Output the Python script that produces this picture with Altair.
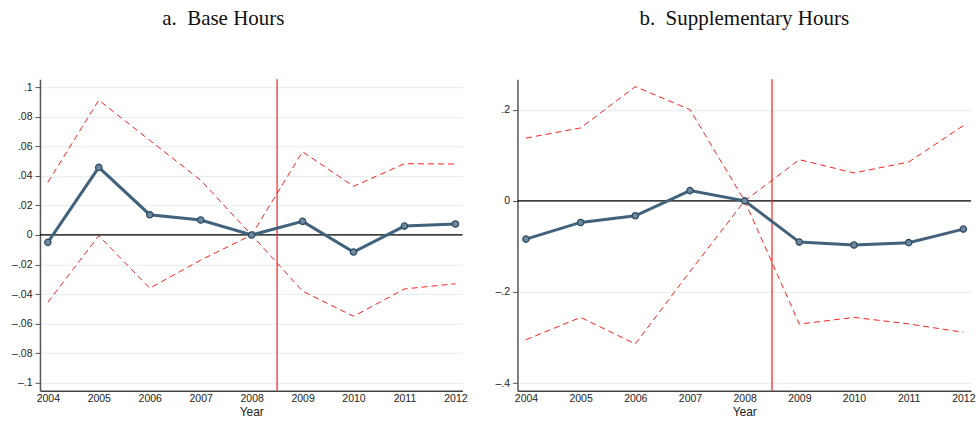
import altair as alt
import pandas as pd

# Event-study coefficients with 95% confidence bounds, by year
years = [2004, 2005, 2006, 2007, 2008, 2009, 2010, 2011, 2012]

base_est = [-0.005, 0.0457, 0.0137, 0.0101, 0.0, 0.0092, -0.0115, 0.006, 0.0074]
base_hi = [0.0356, 0.0912, 0.064, 0.037, 0.0, 0.0563, 0.0329, 0.0482, 0.048]
base_lo = [-0.0455, -0.0005, -0.036, -0.017, 0.0, -0.038, -0.055, -0.0365, -0.033]

supp_est = [-0.0839, -0.0474, -0.0328, 0.0225, 0.0, -0.0905, -0.097, -0.0918, -0.062]
supp_hi = [0.1377, 0.160, 0.2505, 0.2, 0.0, 0.0903, 0.0612, 0.0852, 0.165]
supp_lo = [-0.3047, -0.2557, -0.314, -0.155, 0.0, -0.2704, -0.2557, -0.270, -0.2885]

base_ticks = [-0.1, -0.08, -0.06, -0.04, -0.02, 0, 0.02, 0.04, 0.06, 0.08, 0.1]
supp_ticks = [-0.4, -0.2, 0, 0.2]

LINE_COLOR = "#41627a"
CI_COLOR = "#ff2020"

# Stata-style labels: no leading zero, en-dash minus
LABEL_EXPR = (
    "datum.value == 0 ? '0' : (datum.value < 0 ? '\u2013' : '') + "
    "substring(format(abs(datum.value), '.2~f'), 1)"
)


def panel(title, est, lo, hi, y_domain, y_ticks, width, title_dx, axis_extent):
    est_df = pd.DataFrame({"year": years, "coef": est})
    ci_df = pd.DataFrame(
        {
            "year": years * 2,
            "coef": list(hi) + list(lo),
            "bound": ["upper"] * len(years) + ["lower"] * len(years),
        }
    )

    x_axis = alt.Axis(
        values=years,
        format="d",
        title="Year",
        grid=False,
        ticks=False,
        labelPadding=3,
        labelFontSize=10.5,
        labelColor="#222",
        labelOverlap=False,
        titleFontSize=12,
        titleFontWeight="normal",
        titleColor="#222",
        titlePadding=2,
        domainColor="#444",
        domainWidth=1.5,
    )
    y_axis = alt.Axis(
        values=y_ticks,
        tickCount=len(y_ticks),
        labelExpr=LABEL_EXPR,
        labelOverlap=False,
        title=None,
        grid=True,
        gridColor="#e8f0f1",
        gridWidth=1.2,
        tickSize=5,
        tickColor="#555",
        labelFontSize=10.5,
        labelColor="#222",
        labelPadding=3,
        domainColor="#555",
        domainWidth=1.5,
        minExtent=axis_extent,
        maxExtent=axis_extent,
    )
    x_scale = alt.Scale(domain=[2003.845, 2012.14], nice=False, zero=False)
    y_scale = alt.Scale(domain=y_domain, nice=False, zero=False)

    x = alt.X("year:Q", scale=x_scale, axis=x_axis)
    y = alt.Y("coef:Q", scale=y_scale, axis=y_axis)

    ci = (
        alt.Chart(ci_df)
        .mark_line(color=CI_COLOR, strokeWidth=1, strokeDash=[6, 4])
        .encode(x=x, y=y, detail="bound:N")
    )
    zero = (
        alt.Chart(pd.DataFrame({"coef": [0.0]}))
        .mark_rule(color="black", strokeWidth=1.2)
        .encode(y=y)
    )
    vline = (
        alt.Chart(pd.DataFrame({"year": [2008.5]}))
        .mark_rule(color="#ff1a1a", strokeWidth=1.2)
        .encode(x=x)
    )
    main = (
        alt.Chart(est_df)
        .mark_line(color=LINE_COLOR, strokeWidth=3)
        .encode(x=x, y=y)
    )
    pts = (
        alt.Chart(est_df)
        .mark_point(
            shape="circle", size=40, filled=True, fill="#6f8aa0",
            stroke="#2e4a60", strokeWidth=1.3, opacity=1
        )
        .encode(x=x, y=y)
    )
    return alt.layer(ci, zero, vline, main, pts).properties(
        width=width,
        height=312,
        title=alt.TitleParams(
            text=title,
            font="Liberation Serif",
            fontSize=21,
            fontWeight="normal",
            color="#111",
            anchor="middle",
            dx=title_dx,
            offset=50,
        ),
    )


left = panel("a.\u2002Base Hours", base_est, base_lo, base_hi,
             [-0.1054, 0.1054], base_ticks, 423, -28, 33)
right = panel("b.\u2002Supplementary Hours", supp_est, supp_lo, supp_hi,
              [-0.4168, 0.267], supp_ticks, 454, 0, 23)

chart = (
    alt.hconcat(left, right, spacing=27)
    .properties(padding={"left": 7, "top": 7, "right": 0, "bottom": 0})
    .configure(font="Liberation Sans")
    .configure_view(stroke=None)
    .configure_concat(spacing=27)
)

chart.save("out.html", embed_options={"renderer": "svg", "actions": False})
